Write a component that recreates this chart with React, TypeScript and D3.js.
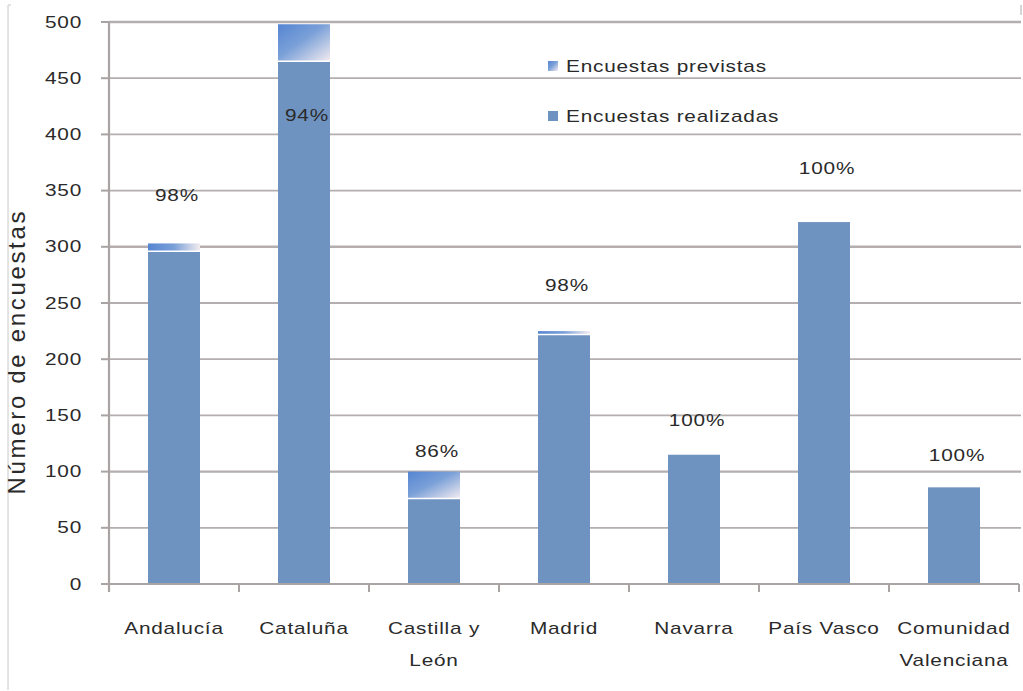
import React from "react";
import * as d3 from "d3";

const categories = ["Andalucía", "Cataluña", "Castilla y León", "Madrid", "Navarra", "País Vasco", "Comunidad Valenciana"];
const categoryLines = [["Andalucía"], ["Cataluña"], ["Castilla y", "León"], ["Madrid"], ["Navarra"], ["País Vasco"], ["Comunidad", "Valenciana"]];
const previstas = [303, 498, 100, 225, 115, 322, 86];
const realizadas = [296, 465, 76, 222, 115, 322, 86];
const percentLabels = ["98%", "94%", "86%", "98%", "100%", "100%", "100%"];
const labelLevels = [346, 417, 118, 266, 146, 370, 114];
const yTicks = [0, 50, 100, 150, 200, 250, 300, 350, 400, 450, 500];
const seriesNames = ["Encuestas previstas", "Encuestas realizadas"];
const yTitle = "Número de encuestas";

const W = 1023;
const H = 691;
const left = 109;
const right = 1019;
const top = 22;
const bottom = 584;

const FONT = "'Liberation Sans', Arial, sans-serif";
const SX = 1.3;
const TXT = "#2a2a2a";
const GRID = "#b5aeae";
const AXIS = "#aaa3a3";
const BAR = "#6f93c1";

function SText({ x, y, children, anchor = "middle", size = 16 }: any) {
  return (
    <text
      transform={`translate(${x},${y}) scale(${SX},1)`}
      textAnchor={anchor}
      dominantBaseline="central"
      fontFamily={FONT}
      fontSize={size}
      letterSpacing={0.6}
      fill={TXT}
    >
      {children}
    </text>
  );
}

export default function App() {
  const x = d3.scaleBand<string>().domain(categories).range([left, right]).paddingInner(0.6).paddingOuter(0.3);
  const y = d3.scaleLinear().domain([0, 500]).range([bottom, top]);
  const step = x.step();
  const bw = x.bandwidth();
  const boundaries = d3.range(categories.length + 1).map((i) => left + i * step);

  return (
    <svg width={W} height={H} style={{ position: "absolute", left: 0, top: 0, background: "#fff" }}>
      <defs>
        <linearGradient id="prev" x1="0" y1="0" x2="1" y2="1">
          <stop offset="0%" stopColor="#5585d2" />
          <stop offset="45%" stopColor="#7aa0d8" />
          <stop offset="100%" stopColor="#f3ecf0" />
        </linearGradient>
        <linearGradient id="prevH" x1="0" y1="0" x2="1" y2="0">
          <stop offset="0%" stopColor="#5585d2" />
          <stop offset="50%" stopColor="#7aa0d8" />
          <stop offset="100%" stopColor="#f3ecf0" />
        </linearGradient>
      </defs>
      {/* frame */}
      <line x1={8} y1={5} x2={8} y2={690} stroke="#c8c8c8" strokeWidth={1} />
      <line x1={8} y1={5} x2={11} y2={5} stroke="#c8c8c8" strokeWidth={1} />
      <line x1={1021} y1={5} x2={1021} y2={15} stroke="#c8c8c8" strokeWidth={1.5} />

      {/* gridlines */}
      {yTicks.filter((t) => t > 0).map((t) => (
        <line key={t} x1={left} x2={right + 2} y1={y(t)} y2={y(t)} stroke={GRID} strokeWidth={t === 500 || t === 100 || t === 300 ? 2.4 : 1.8} />
      ))}

      {/* bars */}
      {categories.map((c, i) => {
        const bx = x(c)!;
        const hasPrev = previstas[i] > realizadas[i];
        const segH = y(realizadas[i]) - y(previstas[i]);
        return (
          <g key={c}>
            {hasPrev && (
              <rect
                x={bx}
                y={y(previstas[i])}
                width={bw}
                height={segH}
                fill={segH < 12 ? "url(#prevH)" : "url(#prev)"}
              />
            )}
            <rect x={bx} y={y(realizadas[i])} width={bw} height={bottom - y(realizadas[i])} fill={BAR} />
            {hasPrev && (
              <line x1={bx} x2={bx + bw} y1={y(realizadas[i])} y2={y(realizadas[i])} stroke="#fff" strokeWidth={1.5} />
            )}
          </g>
        );
      })}

      {/* axes */}
      <line x1={left} x2={left} y1={top} y2={bottom + 8} stroke={AXIS} strokeWidth={2.2} />
      <line x1={left - 8} x2={right} y1={bottom} y2={bottom} stroke={AXIS} strokeWidth={2.2} />
      {yTicks.map((t) => (
        <line key={t} x1={left - 8} x2={left} y1={y(t)} y2={y(t)} stroke={AXIS} strokeWidth={2} />
      ))}
      {boundaries.map((b, i) => (
        <line key={i} x1={b} x2={b} y1={bottom} y2={bottom + 8} stroke={AXIS} strokeWidth={2} />
      ))}

      {/* y tick labels */}
      {yTicks.map((t) => (
        <SText key={t} x={82} y={y(t)} anchor="end" size={16}>
          {t}
        </SText>
      ))}

      {/* category labels */}
      {categories.map((c, i) => (
        <g key={c}>
          {categoryLines[i].map((ln, j) => (
            <SText key={j} x={x(c)! + bw / 2} y={628 + j * 32} size={16}>
              {ln}
            </SText>
          ))}
        </g>
      ))}

      {/* percent labels */}
      {categories.map((c, i) => (
        <SText key={c} x={x(c)! + bw / 2 + 3} y={y(labelLevels[i])} size={16}>
          {percentLabels[i]}
        </SText>
      ))}

      {/* legend */}
      <rect x={548} y={61} width={10} height={10} fill="url(#prev)" />
      <SText x={566} y={66} anchor="start" size={16}>{seriesNames[0]}</SText>
      <rect x={548} y={111} width={10} height={10} fill={BAR} />
      <SText x={566} y={116} anchor="start" size={16}>{seriesNames[1]}</SText>

      {/* y title */}
      <text
        transform={`translate(25,353) rotate(-90)`}
        textAnchor="middle"
        fontFamily={FONT}
        fontSize={24}
        fill={TXT}
        textLength={283}
        lengthAdjust="spacing"
      >
        {yTitle}
      </text>
    </svg>
  );
}
